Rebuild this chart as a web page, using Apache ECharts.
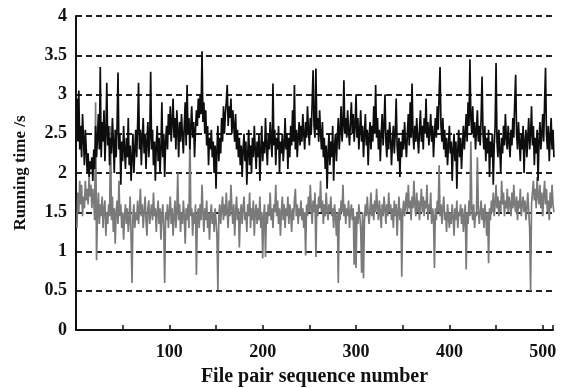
<!DOCTYPE html>
<html>
<head>
<meta charset="utf-8">
<script src="https://cdn.jsdelivr.net/npm/echarts@6/dist/echarts.min.js"></script>
<style>
  html, body { margin: 0; padding: 0; background: #fff; }
  #chart { width: 571px; height: 388px; }
</style>
</head>
<body>
<div id="chart"></div>
<script>
// running time of the upper (black) series, one value per file pair 1..512
const blackTimes = [
  2.95, 2.4, 3.05, 2.3, 2.6, 2.2, 2.75, 2.45, 2.1, 2.55, 2.3, 2.0, 2.25, 1.95, 2.15, 2.05,
  2.2, 1.9, 2.3, 2.05, 2.6, 2.2, 2.45, 2.75, 2.3, 3.35, 2.2, 2.65, 2.4, 2.8, 2.15, 2.5,
  3.15, 2.35, 2.6, 2.1, 2.45, 2.25, 2.7, 2.4, 2.0, 2.55, 2.2, 2.6, 3.28, 2.3, 2.5, 1.85,
  2.4, 2.15, 2.6, 2.3, 2.05, 2.45, 2.2, 2.7, 2.1, 2.35, 1.9, 2.2, 2.5, 2.0, 2.3, 2.55,
  2.2, 2.6, 3.15, 2.3, 2.55, 2.1, 2.45, 2.7, 2.25, 2.5, 2.05, 2.4, 2.65, 2.2, 2.45, 3.29,
  2.3, 2.55, 2.1, 2.4, 1.9, 2.35, 2.6, 2.15, 2.45, 2.0, 2.3, 2.9, 2.2, 2.5, 1.95, 2.4,
  2.6, 2.3, 2.75, 2.5, 2.85, 2.4, 2.65, 2.95, 2.45, 2.7, 2.3, 2.8, 2.55, 2.2, 2.65, 2.4,
  2.75, 2.5, 2.25, 2.6, 2.9, 2.35, 3.12, 2.5, 2.7, 2.3, 2.6, 2.85, 2.45, 2.65, 2.2, 2.55,
  2.8, 2.6, 2.95, 2.7, 3.0, 2.75, 3.55, 2.65, 2.9, 2.5, 2.8, 2.35, 2.6, 2.1, 2.45, 2.3,
  2.55, 2.2, 2.4, 2.0, 2.35, 1.8, 2.3, 2.6, 2.15, 2.45, 2.25, 2.7, 2.4, 2.85, 2.5, 2.75,
  2.9, 3.12, 2.6, 2.85, 2.7, 2.95, 2.5, 2.8, 2.6, 2.4, 2.75, 2.3, 2.55, 2.2, 2.45, 2.1,
  2.35, 1.95, 2.3, 2.5, 2.15, 2.4, 1.85, 2.25, 2.55, 2.1, 2.35, 2.0, 2.45, 2.2, 2.6, 2.3,
  2.05, 2.4, 2.2, 2.5, 1.9, 2.3, 2.6, 2.15, 2.4, 2.25, 2.7, 2.35, 2.1, 2.5, 2.3, 2.65,
  2.4, 2.2, 3.14, 2.35, 2.55, 2.1, 2.45, 2.3, 2.6, 2.0, 2.4, 2.25, 2.5, 2.15, 2.35, 2.7,
  2.3, 2.5, 2.05, 2.45, 2.2, 2.6, 2.35, 2.8, 2.4, 3.12, 2.3, 2.55, 2.2, 2.45, 2.65, 2.35,
  2.6, 2.4, 2.75, 2.5, 2.3, 2.65, 2.45, 2.85, 2.55, 2.35, 2.7, 2.5, 2.9, 3.31, 2.6, 2.45,
  3.33, 2.55, 2.7, 2.4, 2.8, 2.5, 2.3, 2.65, 2.2, 2.45, 2.05, 2.35, 1.8, 2.25, 2.5, 2.1,
  2.4, 2.2, 2.6, 1.9, 2.35, 2.5, 2.15, 2.45, 2.7, 2.3, 2.55, 2.85, 2.4, 2.6, 3.18, 2.5,
  2.7, 2.45, 2.8, 2.55, 2.35, 2.65, 2.9, 2.5, 2.75, 2.4, 2.6, 3.0, 2.45, 2.7, 2.3, 2.55,
  2.8, 2.4, 2.6, 2.2, 2.5, 2.75, 2.35, 2.55, 2.1, 2.45, 2.65, 2.3, 2.6, 2.4, 2.85, 2.5,
  3.12, 2.45, 2.7, 2.3, 2.55, 2.15, 2.5, 2.75, 2.35, 2.6, 3.0, 2.4, 2.2, 2.55, 2.3, 2.65,
  2.45, 2.1, 2.4, 2.6, 2.25, 2.5, 2.95, 2.35, 2.15, 2.45, 1.95, 2.4, 2.2, 2.55, 2.3, 2.65,
  2.4, 2.2, 2.5, 2.75, 2.35, 2.9, 2.45, 3.14, 2.5, 2.3, 2.6, 2.4, 2.7, 2.45, 2.25, 2.55,
  2.8, 2.4, 2.6, 2.3, 2.7, 2.5, 2.95, 2.45, 2.65, 2.35, 2.55, 2.75, 2.4, 2.6, 2.2, 2.5,
  2.7, 2.45, 2.85, 2.55, 3.0, 3.35, 2.6, 2.4, 2.7, 2.3, 2.55, 2.2, 2.45, 2.1, 2.35, 2.6,
  2.25, 2.4, 1.9, 2.3, 2.5, 2.15, 2.4, 1.8, 2.3, 2.55, 2.2, 2.45, 2.05, 2.35, 2.6, 2.3,
  2.5, 2.75, 2.4, 2.9, 2.6, 3.45, 2.7, 2.5, 2.85, 2.45, 2.65, 2.3, 2.55, 2.8, 2.4, 2.6,
  2.35, 2.7, 3.23, 2.5, 2.3, 2.6, 2.15, 2.45, 2.25, 2.55, 1.95, 2.4, 2.2, 2.5, 1.85, 2.35,
  2.6, 3.4, 2.4, 2.2, 2.55, 2.3, 2.0, 2.45, 2.25, 2.6, 2.35, 2.75, 2.45, 2.3, 2.6, 2.4,
  2.2, 2.55, 2.35, 2.7, 2.45, 2.9, 3.25, 2.5, 2.3, 2.65, 2.4, 2.15, 2.5, 2.3, 2.6, 2.0,
  2.4, 2.55, 2.2, 2.45, 2.7, 2.3, 2.5, 2.85, 2.35, 2.6, 2.1, 2.45, 2.25, 2.55, 1.9, 2.4,
  2.65, 2.3, 2.5, 2.75, 2.4, 2.9, 3.34, 2.5, 2.3, 2.6, 2.15, 2.45, 2.7, 2.3, 2.55, 2.2
];

// running time of the lower (grey) series
const greyTimes = [
  1.3, 1.75, 1.5, 1.9, 1.6, 1.85, 1.45, 1.7, 1.55, 1.9, 1.65, 1.8, 1.6, 1.95, 1.7, 1.85,
  1.55, 1.8, 1.65, 1.4, 2.9, 0.89, 1.5, 1.75, 1.35, 1.6, 1.45, 1.7, 1.3, 1.55, 1.65, 1.2,
  1.5, 1.35, 1.6, 1.45, 2.6, 1.4, 1.7, 1.25, 1.55, 1.1, 1.5, 1.65, 1.35, 1.9, 1.45, 1.6,
  1.3, 1.5, 1.15, 1.45, 1.6, 1.35, 1.55, 1.25, 1.4, 1.7, 1.2, 0.6, 1.45, 1.6, 1.3, 1.5,
  1.4, 1.65, 1.35, 1.55, 1.8, 1.45, 1.6, 1.3, 1.5, 1.7, 1.4, 1.2, 1.55, 1.65, 1.35, 1.5,
  1.6, 1.4, 1.75, 1.45, 1.55, 1.25, 1.5, 1.65, 1.35, 1.55, 1.15, 1.45, 1.6, 1.3, 0.6, 1.5,
  1.4, 1.6, 1.3, 1.5, 1.7, 1.35, 1.55, 1.2, 1.45, 1.65, 1.3, 1.5, 2.0, 1.4, 1.6, 1.25,
  1.5, 1.35, 1.65, 1.45, 1.1, 1.55, 1.4, 1.6, 1.3, 2.6, 1.45, 1.55, 1.2, 1.5, 1.35, 1.6,
  0.7, 1.45, 1.55, 1.3, 1.6, 1.4, 1.85, 1.5, 1.25, 1.55, 1.4, 1.65, 1.3, 1.5, 1.15, 1.45,
  1.6, 1.35, 1.5, 1.25, 1.55, 1.4, 1.2, 0.51, 1.45, 1.6, 1.35, 1.55, 1.7, 1.4, 1.6, 1.45,
  1.75, 1.5, 1.3, 1.65, 1.45, 1.85, 1.55, 1.35, 1.6, 1.2, 1.5, 1.7, 1.4, 1.55, 1.05, 1.45,
  1.6, 1.35, 1.55, 1.7, 1.4, 1.5, 1.25, 1.6, 1.45, 1.75, 1.3, 1.55, 1.4, 1.65, 1.2, 1.5,
  1.6, 1.35, 1.55, 1.4, 1.7, 1.3, 1.5, 0.91, 1.45, 1.6, 0.93, 1.5, 1.35, 1.6, 1.45, 1.75,
  1.4, 1.55, 1.3, 1.6, 1.5, 1.85, 1.45, 1.65, 1.35, 1.55, 1.2, 1.5, 1.7, 1.4, 1.6, 1.3,
  1.55, 1.45, 1.7, 1.35, 1.6, 1.5, 1.25, 1.55, 1.4, 1.65, 1.8, 1.45, 1.6, 1.35, 1.55, 1.45,
  1.65, 1.4, 1.55, 1.3, 1.5, 0.95, 1.6, 1.45, 1.7, 1.5, 1.85, 1.55, 1.35, 1.65, 1.5, 1.75,
  0.93, 1.6, 1.45, 1.7, 1.55, 1.9, 1.5, 1.65, 1.35, 1.6, 1.45, 1.75, 1.55, 1.4, 1.6, 1.5,
  1.7, 1.45, 1.55, 1.3, 1.6, 1.45, 1.2, 1.5, 0.6, 1.55, 1.4, 1.65, 1.5, 1.85, 1.45, 1.6,
  1.35, 1.55, 1.45, 1.65, 1.3, 1.5, 1.6, 1.4, 1.55, 0.83, 1.45, 0.79, 1.5, 1.35, 1.6, 1.45,
  1.3, 0.73, 1.5, 0.66, 1.4, 1.6, 1.45, 1.7, 1.5, 1.35, 1.55, 1.75, 1.45, 1.6, 1.4, 1.65,
  1.5, 1.8, 1.55, 1.4, 1.65, 1.5, 1.3, 1.6, 1.45, 1.7, 1.55, 1.35, 1.6, 1.45, 1.75, 1.5,
  1.6, 1.4, 1.55, 1.3, 1.65, 1.45, 1.6, 1.2, 1.5, 1.7, 1.4, 1.55, 0.68, 1.5, 1.65, 1.45,
  1.6, 1.75, 1.5, 1.85, 1.55, 1.65, 1.4, 1.7, 1.55, 1.9, 1.6, 1.45, 1.75, 1.5, 1.65, 1.4,
  1.6, 1.8, 1.5, 1.7, 1.45, 1.65, 1.55, 1.85, 1.4, 1.6, 1.5, 1.75, 1.35, 1.55, 1.45, 0.79,
  1.55, 1.4, 1.65, 1.5, 2.1, 1.45, 1.6, 1.35, 1.55, 1.7, 1.4, 1.5, 1.25, 1.6, 1.45, 1.3,
  1.5, 1.35, 1.6, 1.45, 1.2, 1.55, 1.4, 1.65, 1.3, 1.5, 1.45, 1.6, 1.35, 1.55, 1.25, 1.45,
  1.6, 0.77, 1.5, 1.35, 1.65, 1.45, 2.4, 1.55, 1.4, 1.6, 1.3, 1.5, 1.45, 2.2, 1.55, 1.35,
  1.5, 1.65, 1.4, 1.55, 1.3, 1.6, 1.45, 1.2, 1.5, 0.85, 1.55, 1.4, 1.65, 1.5, 1.75, 1.45,
  1.6, 1.85, 1.55, 1.7, 1.45, 1.65, 1.5, 1.9, 1.6, 1.75, 1.45, 1.65, 1.55, 1.8, 1.5, 1.7,
  1.6, 1.45, 1.75, 1.55, 1.85, 1.6, 1.5, 1.7, 1.4, 1.65, 1.55, 1.8, 1.45, 1.6, 1.7, 1.5,
  1.65, 1.4, 1.55, 1.75, 1.5, 1.3, 0.5, 1.6, 1.75, 1.9, 1.65, 1.8, 1.55, 1.95, 1.7, 1.6,
  1.85, 1.55, 1.75, 1.45, 1.7, 1.9, 1.6, 1.8, 1.5, 1.65, 1.4, 1.75, 1.55, 1.85, 1.6, 1.5
];

const xTickLabels = [100, 200, 300, 400, 500];

const font = 'Liberation Serif';
const toPairs = (arr) => arr.map((v, i) => [i + 1, v]);

const chart = echarts.init(document.getElementById('chart'));

chart.setOption({
  animation: false,
  backgroundColor: '#fff',
  grid: { left: 76, right: 18, top: 16, bottom: 58, outerBoundsMode: 'none' },
  xAxis: {
    type: 'value',
    min: 0,
    max: 511,
    interval: 50,
    name: 'File pair sequence number',
    nameLocation: 'middle',
    nameGap: 37,
    nameTextStyle: { fontFamily: font, fontSize: 20, fontWeight: 'bold', color: '#111' },
    axisLine: { lineStyle: { color: '#111', width: 2 } },
    axisTick: { inside: true, length: 5, lineStyle: { color: '#111', width: 1.5 } },
    axisLabel: {
      fontFamily: font, fontSize: 18, fontWeight: 'bold', color: '#111', margin: 13,
      formatter: (v) => (xTickLabels.includes(v) ? String(v) : '')
    },
    splitLine: { show: false }
  },
  yAxis: {
    type: 'value',
    min: 0,
    max: 4,
    interval: 0.5,
    name: 'Running time /s',
    nameLocation: 'middle',
    nameGap: 47,
    nameTextStyle: { fontFamily: font, fontSize: 17, fontWeight: 'bold', color: '#111' },
    axisLine: { show: true, lineStyle: { color: '#111', width: 2 } },
    axisTick: { show: false },
    axisLabel: { fontFamily: font, fontSize: 18, fontWeight: 'bold', color: '#111', margin: 9 },
    splitLine: { lineStyle: { color: '#222', width: 2, type: [6, 4] } }
  },
  series: [
    {
      type: 'line',
      data: toPairs(greyTimes),
      symbol: 'none',
      lineStyle: { color: '#7a7a7a', width: 1.7 }
    },
    {
      type: 'line',
      data: toPairs(blackTimes),
      symbol: 'none',
      lineStyle: { color: '#0d0d0d', width: 1.7 }
    }
  ]
});
</script>
</body>
</html>
